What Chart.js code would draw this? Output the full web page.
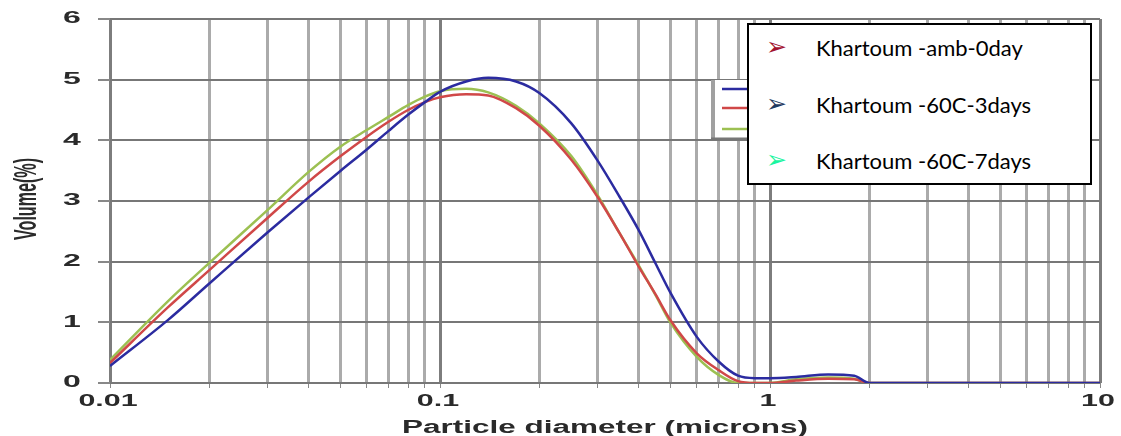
<!DOCTYPE html>
<html>
<head>
<meta charset="utf-8">
<script src="https://cdn.jsdelivr.net/npm/chart.js@4.4.0/dist/chart.umd.min.js"></script>
<style>
  body { margin: 0; background: #fff; }
  #wrap { position: relative; width: 1121px; height: 436px; }
  #legendBox {
    position: absolute; left: 747px; top: 23px; width: 345px; height: 162px;
    box-sizing: border-box; border: 2px solid #000; background: #fff;
    font-family: Lato, "Noto Sans", sans-serif; font-size: 22px; color: #000;
  }
  .row { position: absolute; left: 0; height: 30px; line-height: 30px; width: 100%; }
  .arrow { position: absolute; left: 17px; top: -1px; font-family: "DejaVu Sans"; font-size: 25px; }
  .lbl { position: absolute; left: 67px; white-space: nowrap; }
</style>
</head>
<body>
<div id="wrap">
  <canvas id="psd" width="1121" height="436"></canvas>
  <div id="legendBox"></div>
</div>
<script>
// particle diameter (microns) and volume (%)
const diameters = [0.01, 0.015, 0.02, 0.03, 0.04, 0.05, 0.06, 0.07, 0.08, 0.09, 0.1, 0.12, 0.14, 0.17, 0.2, 0.25, 0.3, 0.35, 0.4, 0.45, 0.5, 0.6, 0.7, 0.8, 0.9, 1, 1.2, 1.5, 1.8, 2, 3, 5, 10];
const volBlue  = [0.28, 1.04, 1.64, 2.48, 3.06, 3.50, 3.85, 4.16, 4.42, 4.63, 4.80, 4.97, 5.03, 4.97, 4.78, 4.28, 3.67, 3.07, 2.52, 1.97, 1.48, 0.76, 0.35, 0.12, 0.08, 0.08, 0.10, 0.14, 0.12, 0, 0, 0, 0];
const volRed   = [0.33, 1.25, 1.86, 2.72, 3.32, 3.74, 4.06, 4.31, 4.50, 4.63, 4.71, 4.76, 4.74, 4.53, 4.24, 3.68, 3.07, 2.47, 1.92, 1.46, 1.03, 0.49, 0.21, 0.03, 0, 0, 0.04, 0.07, 0.06, 0, 0, 0, 0];
const volGreen = [0.38, 1.35, 1.98, 2.85, 3.48, 3.90, 4.17, 4.39, 4.58, 4.72, 4.81, 4.85, 4.79, 4.57, 4.28, 3.74, 3.10, 2.47, 1.94, 1.45, 0.99, 0.43, 0.13, 0, 0, 0, 0.06, 0.09, 0.07, 0, 0, 0, 0];

const seriesNames = ['Khartoum -amb-0day', 'Khartoum -60C-3days', 'Khartoum -60C-7days'];
const arrowColors = ['#a3122e', '#1f3a60', '#19f5a0'];
const lineColors = ['#2b2ba0', '#d04848', '#9cc052'];

const xGridValues = [0.01, 0.02, 0.03, 0.04, 0.05, 0.06, 0.07, 0.08, 0.09,
                     0.1, 0.2, 0.3, 0.4, 0.5, 0.6, 0.7, 0.8, 0.9,
                     1, 2, 3, 4, 5, 6, 7, 8, 9, 10];
const xLabels = ['0.01', '0.1', '1', '10'];
const yLabels = [0, 1, 2, 3, 4, 5, 6];
const xTitle = 'Particle diameter (microns)';
const yTitle = 'Volume(%)';

function toPoints(vals) {
    return diameters.map((d, i) => ({ x: d, y: vals[i] }));
}

// the picture is stretched sideways, so the axis texts are drawn widened
function wideText(ctx, text, cx, cy, font, sx) {
    ctx.save();
    ctx.font = font;
    ctx.textAlign = 'center';
    ctx.textBaseline = 'middle';
    ctx.fillStyle = '#2a2a2a';
    ctx.translate(cx, cy);
    ctx.scale(sx, 1);
    ctx.fillText(text, 0, 0);
    ctx.restore();
}

const axisText = {
    id: 'axisText',
    afterDraw(chart) {
        const ctx = chart.ctx;
        const xs = chart.scales.x, ys = chart.scales.y;
        const font = 'bold 16px "Liberation Sans", Arial, sans-serif';
        yLabels.forEach(v => wideText(ctx, String(v), 72, ys.getPixelForValue(v), font, 2.0));
        xLabels.forEach(t => wideText(ctx, t, xs.getPixelForValue(parseFloat(t)) - 2, 402, font, 1.9));

        // x title
        ctx.save();
        ctx.font = 'bold 18px "Liberation Sans", Arial, sans-serif';
        const w = ctx.measureText(xTitle).width;
        ctx.restore();
        wideText(ctx, xTitle, 605, 428, 'bold 18px "Liberation Sans", Arial, sans-serif', 406 / w);

        // y title, rotated
        ctx.save();
        ctx.font = 'bold 16px "Liberation Sans", Arial, sans-serif';
        const wy = ctx.measureText(yTitle).width;
        ctx.fillStyle = '#2a2a2a';
        ctx.textAlign = 'center';
        ctx.textBaseline = 'middle';
        ctx.translate(27, 199);
        ctx.rotate(-Math.PI / 2);
        ctx.scale(82 / wy, 2.0);
        ctx.fillText(yTitle, 0, 0);
        ctx.restore();

        // old legend peeking out from behind the text box
        ctx.save();
        ctx.fillStyle = '#fff';
        ctx.fillRect(711, 80, 40, 58);
        ctx.strokeStyle = '#a0a0a0';
        ctx.lineWidth = 4;
        ctx.beginPath();
        ctx.moveTo(713, 80); ctx.lineTo(713, 138);
        ctx.stroke();
        ctx.lineWidth = 2;
        ctx.strokeStyle = '#777';
        ctx.beginPath();
        ctx.moveTo(711, 138.5); ctx.lineTo(751, 138.5);
        ctx.stroke();
        [89, 108, 129].forEach((y, i) => {
            ctx.strokeStyle = chart.data.datasets[i].borderColor;
            ctx.lineWidth = 2.5;
            ctx.beginPath();
            ctx.moveTo(722, y); ctx.lineTo(751, y);
            ctx.stroke();
        });
        ctx.restore();
    }
};

const ctx = document.getElementById('psd');
new Chart(ctx, {
    type: 'line',
    data: {
        datasets: [
            { label: seriesNames[0], data: toPoints(volBlue), borderColor: lineColors[0] },
            { label: seriesNames[1], data: toPoints(volRed), borderColor: lineColors[1] },
            { label: seriesNames[2], data: toPoints(volGreen), borderColor: lineColors[2] }
        ].map(d => Object.assign(d, { borderWidth: 2.5, pointRadius: 0, cubicInterpolationMode: 'monotone', fill: false }))
    },
    options: {
        responsive: false,
        animation: false,
        events: [],
        layout: { padding: { top: 19, right: 21, left: 0, bottom: 0 } },
        plugins: { legend: { display: false }, tooltip: { enabled: false } },
        scales: {
            x: {
                type: 'logarithmic',
                min: 0.01,
                max: 10,
                afterBuildTicks: s => { s.ticks = xGridValues.map(v => ({ value: v })); },
                afterFit: s => { s.height = 53; },
                ticks: { display: false },
                border: { display: false },
                grid: {
                    lineWidth: 3,
                    color: c => {
                        const v = c.tick ? c.tick.value : 0;
                        const lg = Math.log10(v);
                        return Math.abs(lg - Math.round(lg)) < 1e-6 ? '#7d7d7d' : '#ababab';
                    },
                    drawTicks: true,
                    tickLength: 5,
                    tickColor: '#888',
                    tickWidth: 1
                }
            },
            y: {
                min: 0,
                max: 6,
                ticks: { display: false, stepSize: 1 },
                afterFit: s => { s.width = 110; },
                border: { display: false },
                grid: { color: '#777', lineWidth: 2, drawTicks: true, tickLength: 12, tickColor: '#888' }
            }
        }
    },
    plugins: [axisText]
});

// text box legend with arrow bullets
const box = document.getElementById('legendBox');
[8, 65, 121].forEach((top, i) => {
    const row = document.createElement('div');
    row.className = 'row';
    row.style.top = top + 'px';
    row.innerHTML = `<span class="arrow" style="color:${arrowColors[i]}">➢</span><span class="lbl">${seriesNames[i]}</span>`;
    box.appendChild(row);
});
</script>
</body>
</html>
